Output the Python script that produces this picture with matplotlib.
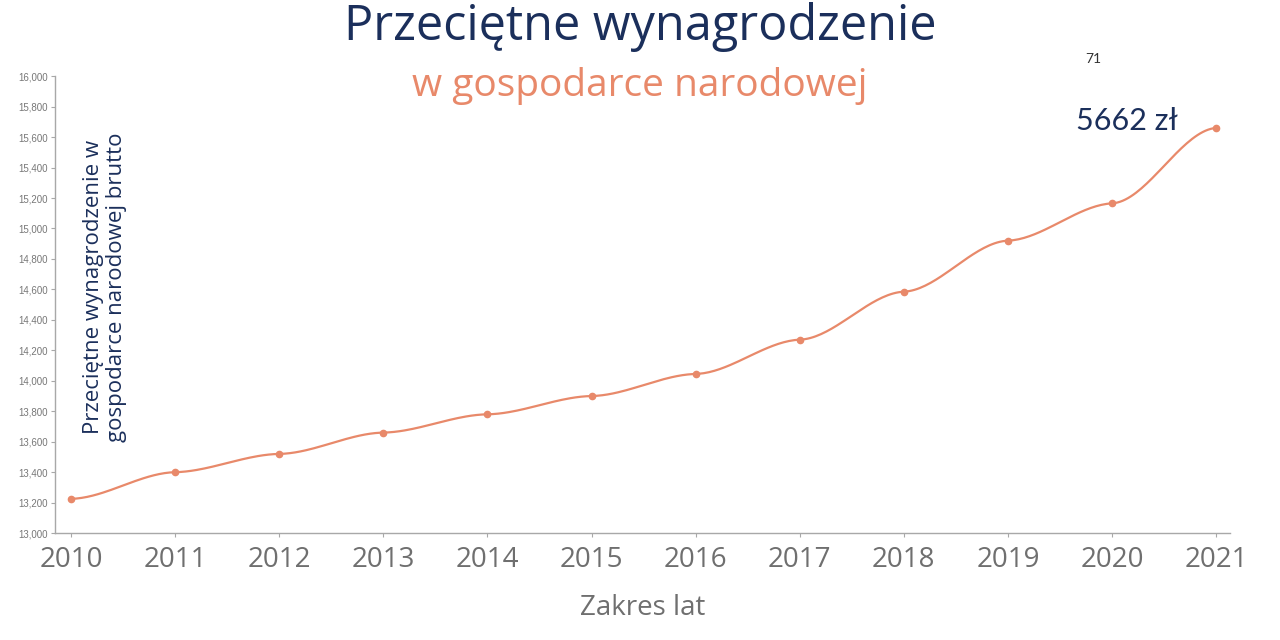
#!/usr/bin/env python3

'''
Average gross salary in the national economy, 2010-2021
'''

import numpy as np
import matplotlib.pyplot as plt
from matplotlib.ticker import FuncFormatter

years = [2010, 2011, 2012, 2013, 2014, 2015, 2016, 2017, 2018, 2019, 2020, 2021]
salary = [13225, 13400, 13520, 13660, 13780, 13900, 14045, 14270, 14585, 14920, 15165, 15660]
y_ticks = list(range(13000, 16001, 200))

title = 'Przeciętne wynagrodzenie'
subtitle = 'w gospodarce narodowej'
y_label = 'Przeciętne wynagrodzenie w\ngospodarce narodowej brutto'
x_label = 'Zakres lat'
note_small = '71'
note_big = '5662 zł'

NAVY = '#1b2f5b'
SALMON = '#e8896a'
GRAY = '#6f6f6f'


def smooth_curve(x, y, tension=0.1, n=40):
    '''
    Hermite curve through the points, with damped tangents so the line
    flattens at every point (like the original chart).
    '''
    x = np.asarray(x, float)
    y = np.asarray(y, float)
    m = np.zeros_like(y)
    m[1:-1] = (y[2:] - y[:-2]) / (x[2:] - x[:-2])
    m[0] = (y[1] - y[0]) / (x[1] - x[0])
    m[-1] = (y[-1] - y[-2]) / (x[-1] - x[-2])
    m *= tension
    xs, ys = [], []
    for i in range(len(x) - 1):
        h = x[i + 1] - x[i]
        t = np.linspace(0, 1, n)
        h00 = 2 * t**3 - 3 * t**2 + 1
        h10 = t**3 - 2 * t**2 + t
        h01 = -2 * t**3 + 3 * t**2
        h11 = t**3 - t**2
        xs.append(x[i] + t * h)
        ys.append(h00 * y[i] + h10 * h * m[i] + h01 * y[i + 1] + h11 * h * m[i + 1])
    return np.concatenate(xs), np.concatenate(ys)


def main():
    fig = plt.figure(figsize=(12.8, 6.4), dpi=100)
    ax = fig.add_axes([0.043, 0.167, 0.918, 0.714])

    cx, cy = smooth_curve(years, salary)
    ax.plot(cx, cy, color=SALMON, lw=1.6, solid_capstyle='round')
    ax.plot(years, salary, 'o', color=SALMON, ms=4.5)

    ax.set_xlim(2009.846, 2021.134)
    ax.set_ylim(13000, 16000)
    ax.set_xticks(years)
    ax.set_yticks(y_ticks)
    ax.yaxis.set_major_formatter(FuncFormatter(lambda v, p: f'{int(v):,}'))

    for s in ['top', 'right']:
        ax.spines[s].set_visible(False)
    for s in ['left', 'bottom']:
        ax.spines[s].set_color('#a8a8a8')
        ax.spines[s].set_linewidth(1.0)

    ax.tick_params(axis='y', length=3, width=0.8, color='#a8a8a8',
                   labelsize=7, labelcolor='#777777', pad=2)
    ax.tick_params(axis='x', length=3, width=0.8, color='#a8a8a8',
                   labelsize=20, labelcolor=GRAY, pad=6)
    for lab in ax.get_yticklabels():
        lab.set_family('Liberation Sans')
    for lab in ax.get_xticklabels():
        lab.set_family('Open Sans')

    ax.set_xlabel(x_label, fontsize=20, color=GRAY, family='Open Sans', labelpad=15)

    fig.text(0.5, 0.958, title, ha='center', va='center', fontsize=35,
             color=NAVY, family='Open Sans')
    fig.text(0.5, 0.866, subtitle, ha='center', va='center', fontsize=28,
             color=SALMON, family='Open Sans')

    fig.text(105 / 1280, 1 - 287 / 640, y_label, ha='center', va='center',
             rotation=90, fontsize=16, color=NAVY, family='Open Sans',
             linespacing=1.1)

    fig.text(1093 / 1280, 1 - 59 / 640, note_small, ha='center', va='center',
             fontsize=10, color='#333333', family='Lato')
    fig.text(1127 / 1280, 1 - 121 / 640, note_big, ha='center', va='center',
             fontsize=22, color=NAVY, family='Lato')

    fig.savefig('out.png', dpi=100, facecolor='white')


if __name__ == '__main__':
    main()
